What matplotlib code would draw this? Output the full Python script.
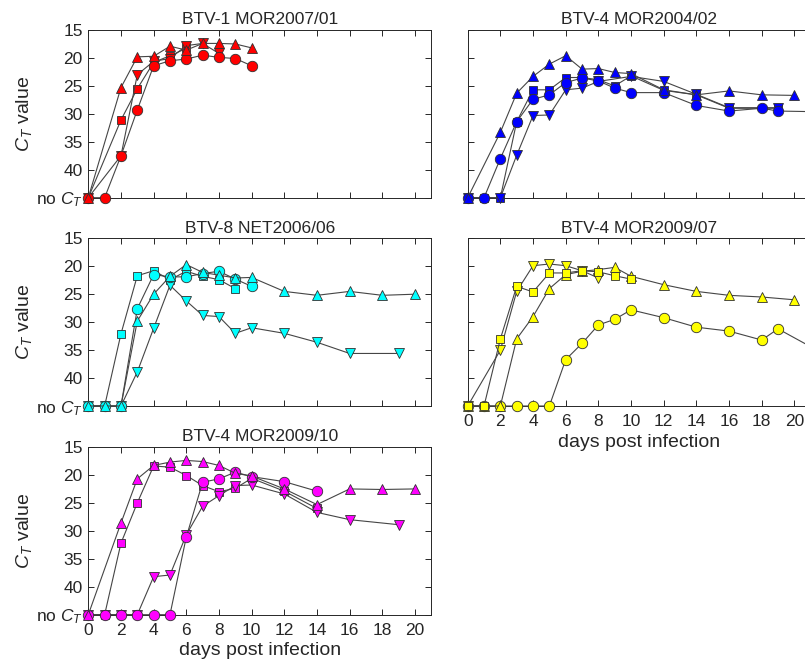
import matplotlib
matplotlib.use("Agg")
import matplotlib.pyplot as plt

plt.rcParams['font.family'] = ['Liberation Sans', 'DejaVu Sans']
plt.rcParams['mathtext.fontset'] = 'custom'
plt.rcParams['mathtext.rm'] = 'Liberation Sans'
plt.rcParams['mathtext.it'] = 'Liberation Sans:italic'

NOCT = 45  # "no C_T" level

titles = ["BTV-1 MOR2007/01", "BTV-4 MOR2004/02", "BTV-8 NET2006/06",
          "BTV-4 MOR2009/07", "BTV-4 MOR2009/10"]
colors = ["#ff0000", "#0000ff", "#00ffff", "#ffff00", "#ff00ff"]

# Panel 1 (red)
r_sq_d = [0, 2, 3, 4, 5, 6]
r_sq = [NOCT, 31.1, 25.5, 20.8, 19.6, 18.3]
r_dn_d = [0, 2, 3, 4, 5, 6, 7, 8]
r_dn = [NOCT, 37.5, 23.0, 20.6, 20.1, 17.8, 17.4, 19.2]
r_ci_d = [0, 1, 2, 3, 4, 5, 6, 7, 8, 9, 10]
r_ci = [NOCT, NOCT, 37.5, 29.3, 21.4, 20.5, 20.2, 19.5, 19.9, 20.1, 21.4]
r_up_d = [0, 2, 3, 4, 5, 6, 7, 8, 9, 10]
r_up = [NOCT, 25.3, 19.8, 19.7, 17.9, 18.6, 17.4, 17.4, 17.5, 18.2]

# Panel 2 (blue)
b_sq_d = [0, 1, 2, 3, 4, 5, 6, 7, 8, 9, 10, 12, 14, 16, 19]
b_sq = [NOCT, NOCT, NOCT, 31.4, 25.7, 25.7, 23.5, 23.5, 23.9, 25.0, 23.2, 25.8, 26.6, 29.0, 29.0]
b_dn_d = [0, 2, 3, 4, 5, 6, 7, 8, 10, 12, 14, 16, 19]
b_dn = [NOCT, NOCT, 37.4, 30.3, 30.2, 25.7, 25.4, 24.2, 23.3, 24.2, 26.5, 28.9, 28.9]
b_ci_d = [0, 1, 2, 3, 4, 5, 6, 7, 8, 9, 10, 12, 14, 16, 18, 19, 21]
b_ci = [NOCT, NOCT, 38.0, 31.4, 27.4, 26.6, 24.4, 23.6, 24.1, 25.4, 26.2, 26.2, 28.5, 29.5, 29.0, 29.5, 29.6]
b_up_d = [0, 2, 3, 4, 5, 6, 7, 8, 9, 10, 12, 14, 16, 18, 20]
b_up = [NOCT, 33.3, 26.3, 23.3, 21.1, 19.6, 22.0, 21.9, 22.6, 22.8, 25.7, 26.6, 25.9, 26.6, 26.7]

# Panel 3 (cyan)
c_sq_d = [0, 1, 2, 3, 4, 5, 6, 7, 8, 9]
c_sq = [NOCT, NOCT, 32.1, 21.7, 20.8, 22.4, 20.9, 21.8, 22.4, 24.0]
c_dn_d = [0, 1, 2, 3, 4, 5, 6, 7, 8, 9, 10, 12, 14, 16, 19]
c_dn = [NOCT, NOCT, NOCT, 38.9, 31.1, 23.4, 26.2, 28.8, 29.0, 32.0, 31.0, 32.0, 33.6, 35.6, 35.6]
c_ci_d = [0, 1, 2, 3, 4, 5, 6, 7, 8, 9, 10]
c_ci = [NOCT, NOCT, NOCT, 27.6, 21.5, 21.9, 21.9, 21.3, 20.9, 22.3, 23.6]
c_up_d = [0, 1, 2, 3, 4, 5, 6, 7, 8, 9, 10, 12, 14, 16, 18, 20]
c_up = [NOCT, NOCT, NOCT, 29.8, 25.0, 21.8, 19.7, 21.1, 21.6, 22.1, 22.0, 24.5, 25.2, 24.5, 25.2, 25.0]

# Panel 4 (yellow)
y_sq_d = [0, 1, 2, 3, 4, 5, 6, 7, 8, 9, 10]
y_sq = [NOCT, NOCT, 33.0, 23.6, 24.6, 21.2, 21.2, 20.8, 21.0, 21.7, 22.3]
y_dn_d = [0, 2, 3, 4, 5, 6, 7, 8]
y_dn = [NOCT, 35.0, 24.5, 19.9, 19.6, 19.9, 20.8, 22.1]
y_ci_d = [0, 1, 2, 3, 4, 5, 6, 7, 8, 9, 10, 12, 14, 16, 18, 19, 21]
y_ci = [NOCT, NOCT, NOCT, NOCT, NOCT, NOCT, 36.7, 33.8, 30.5, 29.5, 27.8, 29.2, 30.9, 31.6, 33.2, 31.2, 34.4]
y_up_d = [0, 1, 2, 3, 4, 5, 6, 7, 8, 9, 10, 12, 14, 16, 18, 20]
y_up = [NOCT, NOCT, NOCT, 33.0, 29.0, 24.0, 21.5, 20.9, 20.6, 20.2, 21.8, 23.3, 24.5, 25.2, 25.5, 26.0]

# Panel 5 (magenta)
m_sq_d = [0, 1, 2, 3, 4, 5, 6, 7, 8, 9, 10, 12, 14]
m_sq = [NOCT, NOCT, 32.2, 25.0, 18.4, 18.6, 20.1, 21.9, 23.0, 22.4, 20.6, 22.9, 26.0]
m_dn_d = [0, 1, 2, 3, 4, 5, 6, 7, 8, 9, 10, 12, 14, 16, 19]
m_dn = [NOCT, NOCT, NOCT, NOCT, 38.2, 37.9, 30.7, 25.6, 23.7, 21.9, 21.8, 23.4, 26.7, 28.0, 28.9]
m_ci_d = [0, 1, 2, 3, 4, 5, 6, 7, 8, 9, 10, 12, 14]
m_ci = [NOCT, NOCT, NOCT, NOCT, NOCT, NOCT, 31.1, 21.3, 20.7, 19.5, 20.3, 21.2, 22.9]
m_up_d = [0, 2, 3, 4, 5, 6, 7, 8, 9, 10, 12, 14, 16, 18, 20]
m_up = [NOCT, 28.6, 20.7, 18.3, 17.7, 17.4, 17.6, 18.3, 19.7, 20.2, 22.5, 25.3, 22.5, 22.6, 22.5]

panels = [
    [(r_sq_d, r_sq, 's'), (r_dn_d, r_dn, 'v'), (r_ci_d, r_ci, 'o'), (r_up_d, r_up, '^')],
    [(b_sq_d, b_sq, 's'), (b_dn_d, b_dn, 'v'), (b_ci_d, b_ci, 'o'), (b_up_d, b_up, '^')],
    [(c_sq_d, c_sq, 's'), (c_dn_d, c_dn, 'v'), (c_ci_d, c_ci, 'o'), (c_up_d, c_up, '^')],
    [(y_ci_d, y_ci, 'o'), (y_up_d, y_up, '^'), (y_dn_d, y_dn, 'v'), (y_sq_d, y_sq, 's')],
    [(m_sq_d, m_sq, 's'), (m_dn_d, m_dn, 'v'), (m_ci_d, m_ci, 'o'), (m_up_d, m_up, '^')],
]

yticks = [15, 20, 25, 30, 35, 40, 45]
ytick_labels = ['15', '20', '25', '30', '35', '40', r'no $C_{\mathit{T}}$']
xticks = list(range(0, 21, 2))

W, H = 805, 664
fig = plt.figure(figsize=(W / 100, H / 100), dpi=100)

lefts = [88.3, 467.7]
width = 343.0
bottoms_px = [197.7, 406.0, 614.7]
height = 167.7
grid = [(0, 0), (0, 1), (1, 0), (1, 1), (2, 0)]
ink = '#262626'

for i, (row, col) in enumerate(grid):
    ax = fig.add_axes([lefts[col] / W, 1 - bottoms_px[row] / H, width / W, height / H])
    for d, v, m in panels[i]:
        ms = 5.5 if m == 's' else 7.5
        ax.plot(d, v, '-', color='#454545', lw=0.8, marker=m, ms=ms,
                mfc=colors[i], mec='#303030', mew=0.6, clip_on=False, zorder=3)
    ax.set_xlim(0, 21)
    ax.set_ylim(45, 15)
    ax.set_xticks(xticks)
    ax.set_yticks(yticks)
    ax.tick_params(direction='in', top=True, right=True, length=4, width=0.7,
                   labelsize=12.5, colors=ink)
    ax.tick_params(axis='y', pad=4)
    ax.tick_params(axis='x', pad=6)
    for s in ax.spines.values():
        s.set_linewidth(0.7)
        s.set_color(ink)
    if col == 0:
        ax.set_yticklabels(ytick_labels)
        ax.set_ylabel(r'$C_{\mathit{T}}$ value', fontsize=14, color=ink)
        ax.yaxis.set_label_coords(-0.158, 0.5)
    else:
        ax.set_yticklabels([])
    if (row, col) in [(2, 0), (1, 1)]:
        ax.set_xticklabels([str(t) for t in xticks])
        ax.set_xlabel('days post infection', fontsize=14, color=ink, labelpad=3)
    else:
        ax.set_xticklabels([])
    ax.set_title(titles[i], fontsize=12.5, color=ink, pad=4)

fig.savefig('out.png', dpi=100)
